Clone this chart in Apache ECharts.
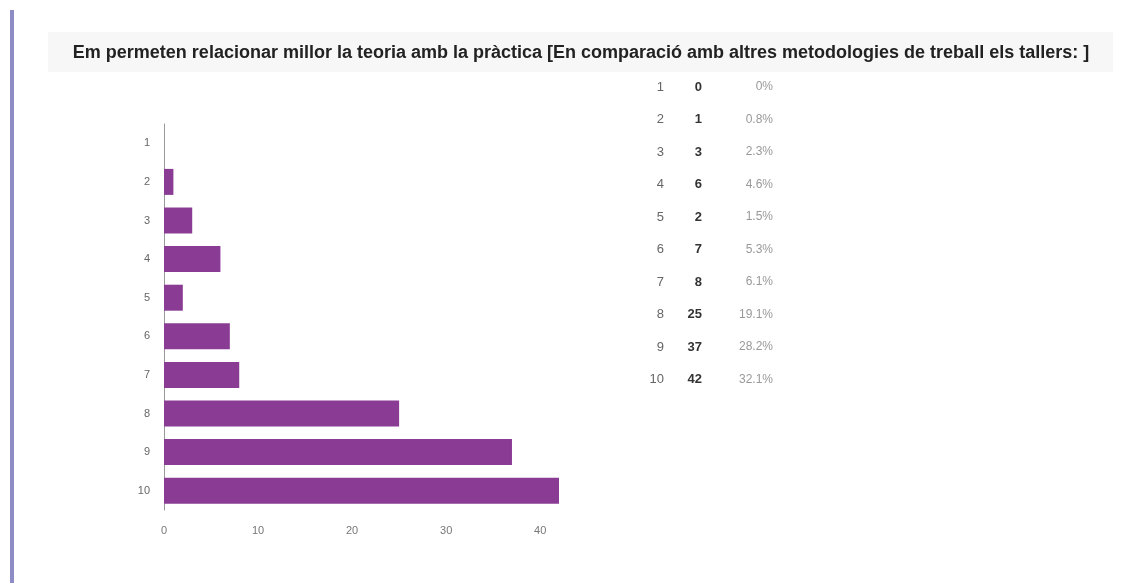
<!DOCTYPE html>
<html>
<head>
<meta charset="utf-8">
<script src="https://cdn.jsdelivr.net/npm/echarts@6/dist/echarts.min.js"></script>
<style>
html,body{margin:0;padding:0;background:#fff;}
#chart{width:1143px;height:583px;}
</style>
</head>
<body>
<div id="chart"></div>
<script>
const titleText = 'Em permeten relacionar millor la teoria amb la pràctica [En comparació amb altres metodologies de treball els tallers: ]';
const categories = ['1','2','3','4','5','6','7','8','9','10'];
const counts = [0, 1, 3, 6, 2, 7, 8, 25, 37, 42];
const percentLabels = ['0%','0.8%','2.3%','4.6%','1.5%','5.3%','6.1%','19.1%','28.2%','32.1%'];
const xTicks = [0, 10, 20, 30, 40];

const chart = echarts.init(document.getElementById('chart'));
const sans = '"Liberation Sans", Arial, sans-serif';

const tableTexts = [];
categories.forEach((c, i) => {
  const y = 87 + i * 32.5;
  tableTexts.push({type:'text', x:664, y:y, style:{text:c, font:'13px ' + sans, fill:'#666', align:'right', verticalAlign:'middle'}});
  tableTexts.push({type:'text', x:702, y:y, style:{text:String(counts[i]), font:'bold 13px ' + sans, fill:'#333', align:'right', verticalAlign:'middle'}});
  tableTexts.push({type:'text', x:773, y:y, style:{text:percentLabels[i], font:'12px ' + sans, fill:'#999', align:'right', verticalAlign:'middle'}});
});

chart.setOption({
  animation: false,
  grid: {left:164, top:124, width:395, height:386, containLabel:false},
  xAxis: {
    type:'value', min:0, max:42, interval:10,
    axisLine:{show:false}, axisTick:{show:false}, splitLine:{show:false},
    axisLabel:{color:'#777', fontSize:11, fontFamily:sans, margin:15, showMaxLabel:false,
      formatter: v => xTicks.indexOf(v) >= 0 ? String(v) : ''}
  },
  yAxis: {
    type:'category', data:categories, inverse:true,
    axisLine:{show:true, lineStyle:{color:'#999', width:1}},
    axisTick:{show:false},
    axisLabel:{color:'#666', fontSize:11, fontFamily:sans, margin:14}
  },
  series: [{
    type:'bar', data:counts, barWidth:26,
    itemStyle:{color:'#8a3c95'}
  }],
  graphic: [
    {type:'rect', shape:{x:10, y:10, width:4, height:573}, style:{fill:'#8d8cc4'}},
    {type:'rect', shape:{x:48, y:32, width:1065, height:40}, style:{fill:'#f7f7f7'}, z:-1},
    {type:'text', x:581, y:53, style:{text:titleText, font:'bold 18px ' + sans, fill:'#222', align:'center', verticalAlign:'middle'}},
    ...tableTexts
  ]
});
</script>
</body>
</html>
